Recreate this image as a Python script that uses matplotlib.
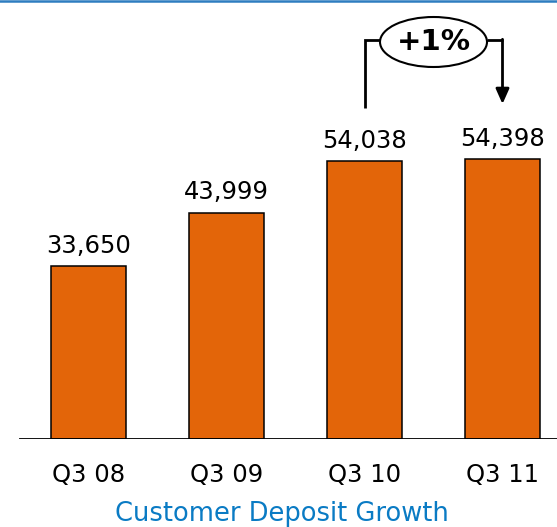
import matplotlib
matplotlib.use("Agg")
import matplotlib.pyplot as plt
from matplotlib.patches import Ellipse
from matplotlib.lines import Line2D

categories = ["Q3 08", "Q3 09", "Q3 10", "Q3 11"]
values = [33650, 43999, 54038, 54398]
value_labels = ["33,650", "43,999", "54,038", "54,398"]
growth_label = "+1%"
title = "Customer Deposit Growth"

W, H = 557, 527
fig = plt.figure(figsize=(W / 100, H / 100), dpi=100)
base_px = 439
ax = fig.add_axes([0, (H - base_px) / H, 1, base_px / H])
px_per_unit = (439 - 266) / 33650.0
ax.set_ylim(0, base_px / px_per_unit)
spacing = 138.0
c0 = 88.5
ax.set_xlim(-c0 / spacing, (W - c0) / spacing)

x = list(range(len(categories)))
ax.bar(x, values, width=0.55, color="#E36509", edgecolor="black", linewidth=1.1, zorder=2)
for xi, v, lab in zip(x, values, value_labels):
    ax.annotate(lab, (xi, v), xytext=(0, 6), textcoords="offset points",
                ha="center", va="bottom", fontsize=17.5, color="black")

for s in ax.spines.values():
    s.set_visible(False)
ax.set_yticks([])
ax.set_xticks(x)
ax.set_xticklabels(categories, fontsize=17.5)
ax.tick_params(axis="x", length=0, pad=17)
ax.axhline(0, xmin=20 / W, xmax=1, color="black", linewidth=1.3, zorder=3)

# growth bracket between Q3 10 and Q3 11
y_top = (base_px - 40) / px_per_unit
y_low = (base_px - 108) / px_per_unit
y_tip = (base_px - 104) / px_per_unit
ex, ew = 2.5, 107 / spacing
ey, eh = (base_px - 42) / px_per_unit, 50 / px_per_unit
ax.plot([2, 2, ex - ew / 2], [y_low, y_top, y_top], color="black", lw=2.0,
        solid_capstyle="butt", solid_joinstyle="miter")
ax.plot([ex + ew / 2, 3], [y_top, y_top], color="black", lw=2.0, solid_capstyle="butt")
ax.annotate("", xy=(3, y_tip), xytext=(3, y_top + 0.7 / px_per_unit),
            arrowprops=dict(arrowstyle="-|>,head_length=0.9,head_width=0.4", color="black", lw=2.0,
                            shrinkA=0, shrinkB=0))
ax.add_patch(Ellipse((ex, ey), ew, eh, facecolor="white", edgecolor="black", lw=1.5, zorder=4))
ax.text(ex, ey, growth_label, ha="center", va="center", fontsize=21, fontweight="bold", zorder=5)

fig.add_artist(Line2D([0, 1], [1 - 1 / H, 1 - 1 / H], transform=fig.transFigure,
                      color="#2E7DC0", lw=1.8))
fig.text(282 / W, 6 / H, title, ha="center", va="baseline", fontsize=18.5, color="#0A7BC4")

fig.savefig("out.png", dpi=100)
